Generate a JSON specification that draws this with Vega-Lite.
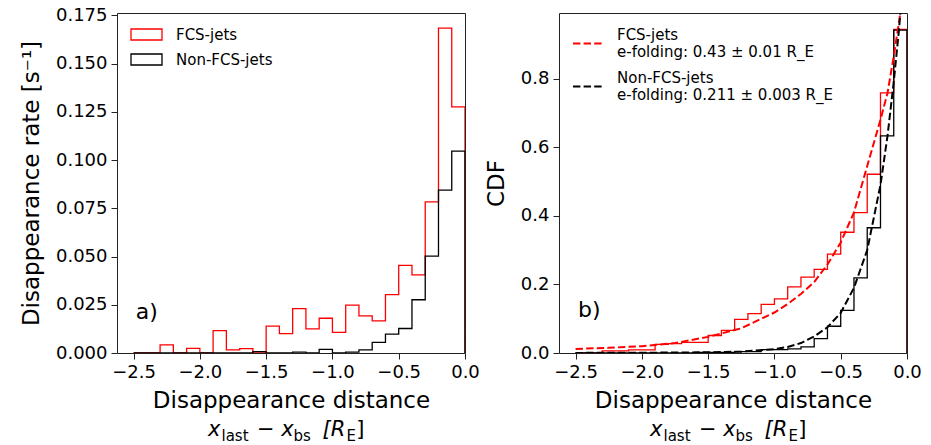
{
  "$schema": "https://vega.github.io/schema/vega-lite/v6.json",
  "padding": {"left": 19, "top": 5, "right": 5, "bottom": 0},
  "background": "white",
  "config": {
    "font": "DejaVu Sans",
    "view": {"stroke": "#222222", "strokeWidth": 1},
    "axis": {
      "domain": false, "grid": false, "ticks": true, "tickColor": "#222222", "tickSize": 6,
      "labelFont": "DejaVu Sans", "labelFontSize": 18, "labelColor": "#000000", "labelPadding": 4,
      "labelFlush": false, "labelOverlap": false,
      "titleFont": "DejaVu Sans", "titleFontSize": 23, "titleFontWeight": "normal", "titleColor": "#000000"
    },
    "text": {"font": "DejaVu Sans", "color": "#000000"}
  },
  "datasets": {
    "hist": [
      {"x": -2.5, "rate": 0, "series": "FCS-jets"},
      {"x": -2.4, "rate": 0, "series": "FCS-jets"},
      {"x": -2.3, "rate": 0.0042, "series": "FCS-jets"},
      {"x": -2.2, "rate": 0, "series": "FCS-jets"},
      {"x": -2.1, "rate": 0.0024, "series": "FCS-jets"},
      {"x": -2.0, "rate": 0, "series": "FCS-jets"},
      {"x": -1.9, "rate": 0.0116, "series": "FCS-jets"},
      {"x": -1.8, "rate": 0.0016, "series": "FCS-jets"},
      {"x": -1.7, "rate": 0.0023, "series": "FCS-jets"},
      {"x": -1.6, "rate": 0, "series": "FCS-jets"},
      {"x": -1.5, "rate": 0.0139, "series": "FCS-jets"},
      {"x": -1.4, "rate": 0.0100, "series": "FCS-jets"},
      {"x": -1.3, "rate": 0.0230, "series": "FCS-jets"},
      {"x": -1.2, "rate": 0.0125, "series": "FCS-jets"},
      {"x": -1.1, "rate": 0.0180, "series": "FCS-jets"},
      {"x": -1.0, "rate": 0.0107, "series": "FCS-jets"},
      {"x": -0.9, "rate": 0.0248, "series": "FCS-jets"},
      {"x": -0.8, "rate": 0.0192, "series": "FCS-jets"},
      {"x": -0.7, "rate": 0.0166, "series": "FCS-jets"},
      {"x": -0.6, "rate": 0.0303, "series": "FCS-jets"},
      {"x": -0.5, "rate": 0.0454, "series": "FCS-jets"},
      {"x": -0.4, "rate": 0.0405, "series": "FCS-jets"},
      {"x": -0.3, "rate": 0.0783, "series": "FCS-jets"},
      {"x": -0.2, "rate": 0.1684, "series": "FCS-jets"},
      {"x": -0.1, "rate": 0.1275, "series": "FCS-jets"},
      {"x": 0, "rate": 0.1275, "series": "FCS-jets"},
      {"x": 0, "rate": 0, "series": "FCS-jets"},
      {"x": -2.5, "rate": 0, "series": "Non-FCS-jets"},
      {"x": -2.4, "rate": 0, "series": "Non-FCS-jets"},
      {"x": -2.3, "rate": 0, "series": "Non-FCS-jets"},
      {"x": -2.2, "rate": 0, "series": "Non-FCS-jets"},
      {"x": -2.1, "rate": 0, "series": "Non-FCS-jets"},
      {"x": -2.0, "rate": 0, "series": "Non-FCS-jets"},
      {"x": -1.9, "rate": 0, "series": "Non-FCS-jets"},
      {"x": -1.8, "rate": 0, "series": "Non-FCS-jets"},
      {"x": -1.7, "rate": 0, "series": "Non-FCS-jets"},
      {"x": -1.6, "rate": 0.0007, "series": "Non-FCS-jets"},
      {"x": -1.5, "rate": 0, "series": "Non-FCS-jets"},
      {"x": -1.4, "rate": 0, "series": "Non-FCS-jets"},
      {"x": -1.3, "rate": 0.0005, "series": "Non-FCS-jets"},
      {"x": -1.2, "rate": 0, "series": "Non-FCS-jets"},
      {"x": -1.1, "rate": 0.0019, "series": "Non-FCS-jets"},
      {"x": -1.0, "rate": 0, "series": "Non-FCS-jets"},
      {"x": -0.9, "rate": 0.0005, "series": "Non-FCS-jets"},
      {"x": -0.8, "rate": 0.0016, "series": "Non-FCS-jets"},
      {"x": -0.7, "rate": 0.0055, "series": "Non-FCS-jets"},
      {"x": -0.6, "rate": 0.0098, "series": "Non-FCS-jets"},
      {"x": -0.5, "rate": 0.0127, "series": "Non-FCS-jets"},
      {"x": -0.4, "rate": 0.0276, "series": "Non-FCS-jets"},
      {"x": -0.3, "rate": 0.0502, "series": "Non-FCS-jets"},
      {"x": -0.2, "rate": 0.0844, "series": "Non-FCS-jets"},
      {"x": -0.1, "rate": 0.1046, "series": "Non-FCS-jets"},
      {"x": 0, "rate": 0.1046, "series": "Non-FCS-jets"},
      {"x": 0, "rate": 0, "series": "Non-FCS-jets"}
    ],
    "cdf": [
      {"x": -2.5, "cdf": 0, "series": "FCS-jets"},
      {"x": -2.4, "cdf": 0, "series": "FCS-jets"},
      {"x": -2.3, "cdf": 0.006, "series": "FCS-jets"},
      {"x": -2.2, "cdf": 0.006, "series": "FCS-jets"},
      {"x": -2.1, "cdf": 0.0094, "series": "FCS-jets"},
      {"x": -2.0, "cdf": 0.0094, "series": "FCS-jets"},
      {"x": -1.9, "cdf": 0.025, "series": "FCS-jets"},
      {"x": -1.8, "cdf": 0.0275, "series": "FCS-jets"},
      {"x": -1.7, "cdf": 0.031, "series": "FCS-jets"},
      {"x": -1.6, "cdf": 0.031, "series": "FCS-jets"},
      {"x": -1.5, "cdf": 0.051, "series": "FCS-jets"},
      {"x": -1.4, "cdf": 0.066, "series": "FCS-jets"},
      {"x": -1.3, "cdf": 0.098, "series": "FCS-jets"},
      {"x": -1.2, "cdf": 0.115, "series": "FCS-jets"},
      {"x": -1.1, "cdf": 0.142, "series": "FCS-jets"},
      {"x": -1.0, "cdf": 0.158, "series": "FCS-jets"},
      {"x": -0.9, "cdf": 0.193, "series": "FCS-jets"},
      {"x": -0.8, "cdf": 0.221, "series": "FCS-jets"},
      {"x": -0.7, "cdf": 0.244, "series": "FCS-jets"},
      {"x": -0.6, "cdf": 0.288, "series": "FCS-jets"},
      {"x": -0.5, "cdf": 0.352, "series": "FCS-jets"},
      {"x": -0.4, "cdf": 0.409, "series": "FCS-jets"},
      {"x": -0.3, "cdf": 0.521, "series": "FCS-jets"},
      {"x": -0.2, "cdf": 0.758, "series": "FCS-jets"},
      {"x": -0.1, "cdf": 0.943, "series": "FCS-jets"},
      {"x": 0, "cdf": 0.943, "series": "FCS-jets"},
      {"x": 0, "cdf": 0, "series": "FCS-jets"},
      {"x": -2.5, "cdf": 0, "series": "Non-FCS-jets"},
      {"x": -2.4, "cdf": 0, "series": "Non-FCS-jets"},
      {"x": -2.3, "cdf": 0, "series": "Non-FCS-jets"},
      {"x": -2.2, "cdf": 0, "series": "Non-FCS-jets"},
      {"x": -2.1, "cdf": 0, "series": "Non-FCS-jets"},
      {"x": -2.0, "cdf": 0, "series": "Non-FCS-jets"},
      {"x": -1.9, "cdf": 0, "series": "Non-FCS-jets"},
      {"x": -1.8, "cdf": 0, "series": "Non-FCS-jets"},
      {"x": -1.7, "cdf": 0, "series": "Non-FCS-jets"},
      {"x": -1.6, "cdf": 0.002, "series": "Non-FCS-jets"},
      {"x": -1.5, "cdf": 0.002, "series": "Non-FCS-jets"},
      {"x": -1.4, "cdf": 0.002, "series": "Non-FCS-jets"},
      {"x": -1.3, "cdf": 0.004, "series": "Non-FCS-jets"},
      {"x": -1.2, "cdf": 0.004, "series": "Non-FCS-jets"},
      {"x": -1.1, "cdf": 0.010, "series": "Non-FCS-jets"},
      {"x": -1.0, "cdf": 0.010, "series": "Non-FCS-jets"},
      {"x": -0.9, "cdf": 0.012, "series": "Non-FCS-jets"},
      {"x": -0.8, "cdf": 0.018, "series": "Non-FCS-jets"},
      {"x": -0.7, "cdf": 0.042, "series": "Non-FCS-jets"},
      {"x": -0.6, "cdf": 0.078, "series": "Non-FCS-jets"},
      {"x": -0.5, "cdf": 0.124, "series": "Non-FCS-jets"},
      {"x": -0.4, "cdf": 0.219, "series": "Non-FCS-jets"},
      {"x": -0.3, "cdf": 0.365, "series": "Non-FCS-jets"},
      {"x": -0.2, "cdf": 0.633, "series": "Non-FCS-jets"},
      {"x": -0.1, "cdf": 0.941, "series": "Non-FCS-jets"},
      {"x": 0, "cdf": 0.941, "series": "Non-FCS-jets"},
      {"x": 0, "cdf": 0, "series": "Non-FCS-jets"}
    ],
    "fit": [
      {"x": -2.5, "cdf": 0.012, "model": "FCS-jets"},
      {"x": -2.25, "cdf": 0.015, "model": "FCS-jets"},
      {"x": -2.0, "cdf": 0.020, "model": "FCS-jets"},
      {"x": -1.75, "cdf": 0.029, "model": "FCS-jets"},
      {"x": -1.5, "cdf": 0.047, "model": "FCS-jets"},
      {"x": -1.25, "cdf": 0.072, "model": "FCS-jets"},
      {"x": -1.0, "cdf": 0.118, "model": "FCS-jets"},
      {"x": -0.9, "cdf": 0.143, "model": "FCS-jets"},
      {"x": -0.8, "cdf": 0.172, "model": "FCS-jets"},
      {"x": -0.7, "cdf": 0.207, "model": "FCS-jets"},
      {"x": -0.6, "cdf": 0.258, "model": "FCS-jets"},
      {"x": -0.5, "cdf": 0.322, "model": "FCS-jets"},
      {"x": -0.4, "cdf": 0.41, "model": "FCS-jets"},
      {"x": -0.3, "cdf": 0.545, "model": "FCS-jets"},
      {"x": -0.2, "cdf": 0.68, "model": "FCS-jets"},
      {"x": -0.147, "cdf": 0.758, "model": "FCS-jets"},
      {"x": -0.1, "cdf": 0.865, "model": "FCS-jets"},
      {"x": -0.05, "cdf": 0.991, "model": "FCS-jets"},
      {"x": -2.5, "cdf": 0.0003, "model": "Non-FCS-jets"},
      {"x": -2.0, "cdf": 0.0008, "model": "Non-FCS-jets"},
      {"x": -1.5, "cdf": 0.002, "model": "Non-FCS-jets"},
      {"x": -1.25, "cdf": 0.004, "model": "Non-FCS-jets"},
      {"x": -1.0, "cdf": 0.011, "model": "Non-FCS-jets"},
      {"x": -0.9, "cdf": 0.0175, "model": "Non-FCS-jets"},
      {"x": -0.8, "cdf": 0.029, "model": "Non-FCS-jets"},
      {"x": -0.7, "cdf": 0.048, "model": "Non-FCS-jets"},
      {"x": -0.6, "cdf": 0.075, "model": "Non-FCS-jets"},
      {"x": -0.5, "cdf": 0.117, "model": "Non-FCS-jets"},
      {"x": -0.4, "cdf": 0.19, "model": "Non-FCS-jets"},
      {"x": -0.3, "cdf": 0.30, "model": "Non-FCS-jets"},
      {"x": -0.2, "cdf": 0.49, "model": "Non-FCS-jets"},
      {"x": -0.147, "cdf": 0.633, "model": "Non-FCS-jets"},
      {"x": -0.1, "cdf": 0.79, "model": "Non-FCS-jets"},
      {"x": -0.061, "cdf": 0.94, "model": "Non-FCS-jets"},
      {"x": -0.05, "cdf": 0.991, "model": "Non-FCS-jets"}
    ]
  },
  "spacing": 94,
  "bounds": "flush",
  "resolve": {"scale": {"color": "independent", "stroke": "independent"}, "legend": {"color": "independent", "stroke": "independent"}},
  "hconcat": [
    {
      "width": 348,
      "height": 340,
      "layer": [
        {
          "data": {"name": "hist"},
          "mark": {"type": "line", "interpolate": "step-after", "strokeWidth": 1.3, "clip": true},
          "encoding": {
            "x": {"field": "x", "type": "quantitative",
              "scale": {"domain": [-2.625, 0], "nice": false, "zero": false},
              "axis": {"values": [-2.5, -2, -1.5, -1, -0.5, 0], "labelExpr": "replace(format(datum.value, '.1f'), '-', '−')", "title": "Disappearance distance", "titlePadding": 8}},
            "y": {"field": "rate", "type": "quantitative",
              "scale": {"domain": [0, 0.1762], "nice": false},
              "axis": {"values": [0, 0.025, 0.05, 0.075, 0.1, 0.125, 0.15, 0.175], "format": ".3f", "title": "Disappearance rate [s⁻¹]", "titlePadding": 12}},
            "color": {"field": "series", "type": "nominal",
              "scale": {"domain": ["FCS-jets", "Non-FCS-jets"], "range": ["#ff0000", "#000000"]},
              "legend": {"title": null, "orient": "none", "legendX": 13, "legendY": 5, "padding": 0,
                "symbolType": "M-1,-0.355H1V0.355H-1Z", "symbolSize": 961, "symbolStrokeWidth": 1.3, "symbolFillColor": "white",
                "labelFont": "DejaVu Sans", "labelFontSize": 15, "labelColor": "#000000", "labelOffset": 13, "rowPadding": -9}}
          }
        },
        {
          "data": {"values": [{}]},
          "mark": {"type": "text", "fontSize": 22, "align": "left", "baseline": "middle"},
          "encoding": {"x": {"datum": -2.483, "type": "quantitative"}, "y": {"datum": 0.0212, "type": "quantitative"}, "text": {"value": "a)"}}
        },
        {
          "data": {"values": [{}]},
          "mark": {"type": "text", "fontSize": 21, "fontStyle": "italic", "align": "left", "baseline": "alphabetic"},
          "encoding": {"x": {"datum": -1.939, "type": "quantitative"}, "y": {"datum": -0.04317, "type": "quantitative"}, "text": {"value": "x"}}
        },
        {
          "data": {"values": [{}]},
          "mark": {"type": "text", "fontSize": 15, "align": "left", "baseline": "alphabetic"},
          "encoding": {"x": {"datum": -1.837, "type": "quantitative"}, "y": {"datum": -0.04576, "type": "quantitative"}, "text": {"value": "last"}}
        },
        {
          "data": {"values": [{}]},
          "mark": {"type": "text", "fontSize": 21, "fontStyle": "italic", "align": "left", "baseline": "alphabetic"},
          "encoding": {"x": {"datum": -1.569, "type": "quantitative"}, "y": {"datum": -0.04317, "type": "quantitative"}, "text": {"value": "− x"}}
        },
        {
          "data": {"values": [{}]},
          "mark": {"type": "text", "fontSize": 15, "align": "left", "baseline": "alphabetic"},
          "encoding": {"x": {"datum": -1.294, "type": "quantitative"}, "y": {"datum": -0.04576, "type": "quantitative"}, "text": {"value": "bs"}}
        },
        {
          "data": {"values": [{}]},
          "mark": {"type": "text", "fontSize": 21, "fontStyle": "italic", "align": "left", "baseline": "alphabetic"},
          "encoding": {"x": {"datum": -1.075, "type": "quantitative"}, "y": {"datum": -0.04317, "type": "quantitative"}, "text": {"value": "[R"}}
        },
        {
          "data": {"values": [{}]},
          "mark": {"type": "text", "fontSize": 15, "align": "left", "baseline": "alphabetic"},
          "encoding": {"x": {"datum": -0.893, "type": "quantitative"}, "y": {"datum": -0.04576, "type": "quantitative"}, "text": {"value": "E"}}
        },
        {
          "data": {"values": [{}]},
          "mark": {"type": "text", "fontSize": 21, "align": "left", "baseline": "alphabetic"},
          "encoding": {"x": {"datum": -0.82, "type": "quantitative"}, "y": {"datum": -0.04317, "type": "quantitative"}, "text": {"value": "]"}}
        }
      ]
    },
    {
      "width": 348,
      "height": 340,
      "layer": [
        {
          "data": {"name": "cdf"},
          "mark": {"type": "line", "interpolate": "step-after", "strokeWidth": 1.3, "clip": true},
          "encoding": {
            "x": {"field": "x", "type": "quantitative",
              "scale": {"domain": [-2.625, 0], "nice": false, "zero": false},
              "axis": {"values": [-2.5, -2, -1.5, -1, -0.5, 0], "labelExpr": "replace(format(datum.value, '.1f'), '-', '−')", "title": "Disappearance distance", "titlePadding": 8}},
            "y": {"field": "cdf", "type": "quantitative",
              "scale": {"domain": [0, 0.991], "nice": false},
              "axis": {"values": [0, 0.2, 0.4, 0.6, 0.8], "format": ".1f", "title": "CDF", "titlePadding": 12}},
            "color": {"field": "series", "type": "nominal",
              "scale": {"range": ["#ff0000", "#000000"]},
              "legend": null}
          }
        },
        {
          "data": {"name": "fit"},
          "mark": {"type": "line", "strokeWidth": 2, "strokeDash": [7.4, 3.2], "clip": true},
          "encoding": {
            "x": {"field": "x", "type": "quantitative"},
            "y": {"field": "cdf", "type": "quantitative"},
            "stroke": {"field": "model", "type": "nominal",
              "scale": {"range": ["#ff0000", "#000000"]},
              "legend": {"title": null, "orient": "none", "legendX": 13, "legendY": 14, "padding": 0,
                "symbolType": "stroke", "symbolSize": 961, "symbolStrokeWidth": 2, "symbolDash": [7.4, 3.2],
                "labelFont": "DejaVu Sans", "labelFontSize": 15, "labelColor": "#000000", "labelOffset": 12, "rowPadding": 10,
                "labelLimit": 400, "labelBaseline": "line-bottom",
                "labelExpr": "datum.label == 'FCS-jets' ? ['FCS-jets', 'e-folding: 0.43 ± 0.01 R_E'] : ['Non-FCS-jets', 'e-folding: 0.211 ± 0.003 R_E']"}}
          }
        },
        {
          "data": {"values": [{}]},
          "mark": {"type": "text", "fontSize": 22, "align": "left", "baseline": "middle"},
          "encoding": {"x": {"datum": -2.482, "type": "quantitative"}, "y": {"datum": 0.1245, "type": "quantitative"}, "text": {"value": "b)"}}
        },
        {
          "data": {"values": [{}]},
          "mark": {"type": "text", "fontSize": 21, "fontStyle": "italic", "align": "left", "baseline": "alphabetic"},
          "encoding": {"x": {"datum": -1.939, "type": "quantitative"}, "y": {"datum": -0.24286, "type": "quantitative"}, "text": {"value": "x"}}
        },
        {
          "data": {"values": [{}]},
          "mark": {"type": "text", "fontSize": 15, "align": "left", "baseline": "alphabetic"},
          "encoding": {"x": {"datum": -1.837, "type": "quantitative"}, "y": {"datum": -0.25743, "type": "quantitative"}, "text": {"value": "last"}}
        },
        {
          "data": {"values": [{}]},
          "mark": {"type": "text", "fontSize": 21, "fontStyle": "italic", "align": "left", "baseline": "alphabetic"},
          "encoding": {"x": {"datum": -1.569, "type": "quantitative"}, "y": {"datum": -0.24286, "type": "quantitative"}, "text": {"value": "− x"}}
        },
        {
          "data": {"values": [{}]},
          "mark": {"type": "text", "fontSize": 15, "align": "left", "baseline": "alphabetic"},
          "encoding": {"x": {"datum": -1.294, "type": "quantitative"}, "y": {"datum": -0.25743, "type": "quantitative"}, "text": {"value": "bs"}}
        },
        {
          "data": {"values": [{}]},
          "mark": {"type": "text", "fontSize": 21, "fontStyle": "italic", "align": "left", "baseline": "alphabetic"},
          "encoding": {"x": {"datum": -1.075, "type": "quantitative"}, "y": {"datum": -0.24286, "type": "quantitative"}, "text": {"value": "[R"}}
        },
        {
          "data": {"values": [{}]},
          "mark": {"type": "text", "fontSize": 15, "align": "left", "baseline": "alphabetic"},
          "encoding": {"x": {"datum": -0.893, "type": "quantitative"}, "y": {"datum": -0.25743, "type": "quantitative"}, "text": {"value": "E"}}
        },
        {
          "data": {"values": [{}]},
          "mark": {"type": "text", "fontSize": 21, "align": "left", "baseline": "alphabetic"},
          "encoding": {"x": {"datum": -0.82, "type": "quantitative"}, "y": {"datum": -0.24286, "type": "quantitative"}, "text": {"value": "]"}}
        }
      ]
    }
  ]
}
